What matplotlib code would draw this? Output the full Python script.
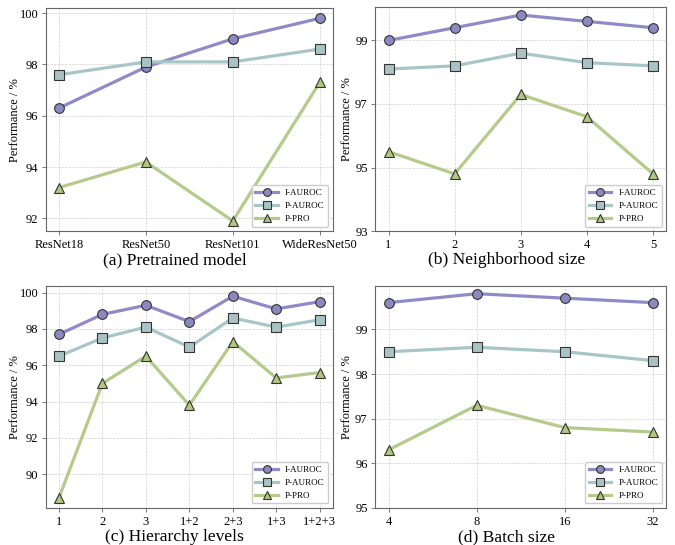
import matplotlib.pyplot as plt

plt.rcParams['font.family'] = ['Liberation Serif', 'DejaVu Serif']

# (a) pretrained model
models = ['ResNet18', 'ResNet50', 'ResNet101', 'WideResNet50']
a_i_auroc = [96.3, 97.9, 99.0, 99.8]
a_p_auroc = [97.6, 98.1, 98.1, 98.6]
a_p_pro = [93.2, 94.2, 91.9, 97.3]

# (b) neighborhood size
nbr = ['1', '2', '3', '4', '5']
b_i_auroc = [99.0, 99.4, 99.8, 99.6, 99.4]
b_p_auroc = [98.1, 98.2, 98.6, 98.3, 98.2]
b_p_pro = [95.5, 94.8, 97.3, 96.6, 94.8]

# (c) hierarchy levels
levels = ['1', '2', '3', '1+2', '2+3', '1+3', '1+2+3']
c_i_auroc = [97.7, 98.8, 99.3, 98.4, 99.8, 99.1, 99.5]
c_p_auroc = [96.5, 97.5, 98.1, 97.0, 98.6, 98.1, 98.5]
c_p_pro = [88.7, 95.0, 96.5, 93.8, 97.3, 95.3, 95.6]

# (d) batch size
batch = ['4', '8', '16', '32']
d_i_auroc = [99.6, 99.8, 99.7, 99.6]
d_p_auroc = [98.5, 98.6, 98.5, 98.3]
d_p_pro = [96.3, 97.3, 96.8, 96.7]

series_style = [
    ('I-AUROC', 'o', '#918ac8', '#8c88c0'),
    ('P-AUROC', 's', '#a8c6c8', '#a9c3c5'),
    ('P-PRO', '^', '#b6ca8c', '#b1c77f'),
]

fig = plt.figure(figsize=(6.75, 5.45), dpi=100)


def panel(rect, labels, data, caption, ylab_x, cap_x, yticks=None, ylim=None):
    ax = fig.add_axes(rect)
    x = list(range(len(labels)))
    for (name, mk, lc, fc), vals in zip(series_style, data):
        ax.plot(x, vals, color=lc, lw=2.3, marker=mk, markersize=7,
                markerfacecolor=fc, markeredgecolor='#333333',
                markeredgewidth=0.8, label=name)
    ax.set_xticks(x)
    ax.set_xticklabels(labels)
    if yticks is not None:
        ax.set_yticks(yticks)
    if ylim is not None:
        ax.set_ylim(*ylim)
    ax.tick_params(labelsize=9, length=3, width=0.6, pad=2.5, color='#666666')
    ax.set_ylabel('Performance / %', fontsize=9)
    ax.yaxis.set_label_coords(ylab_x, 0.5)
    # caption sits centred on the whole sub-figure, not the axes
    ax.set_xlabel(caption, fontsize=12.6)
    ax.xaxis.set_label_coords(cap_x, -0.095)
    ax.grid(True, linestyle='--', linewidth=0.5, color='#d0d0d0')
    for s in ax.spines.values():
        s.set_color('#666666')
    ax.legend(loc='lower right', fontsize=6.5, framealpha=1, edgecolor='#cccccc',
              fancybox=True, handlelength=2.5, markerscale=0.8)
    return ax


panel([0.068, 0.576, 0.425, 0.409], models, [a_i_auroc, a_p_auroc, a_p_pro],
      '(a) Pretrained model', -0.088, 0.448, yticks=[92, 94, 96, 98, 100])
panel([0.556, 0.576, 0.431, 0.411], nbr, [b_i_auroc, b_p_auroc, b_p_pro],
      '(b) Neighborhood size', -0.076, 0.452, yticks=[93, 95, 97, 99],
      ylim=(93, 100.05))
panel([0.068, 0.068, 0.425, 0.407], levels, [c_i_auroc, c_p_auroc, c_p_pro],
      '(c) Hierarchy levels', -0.088, 0.448, yticks=[90, 92, 94, 96, 98, 100])
panel([0.556, 0.068, 0.431, 0.407], batch, [d_i_auroc, d_p_auroc, d_p_pro],
      '(d) Batch size', -0.076, 0.452, yticks=[95, 96, 97, 98, 99],
      ylim=(95, 99.97))

fig.savefig('out.png', dpi=100)
